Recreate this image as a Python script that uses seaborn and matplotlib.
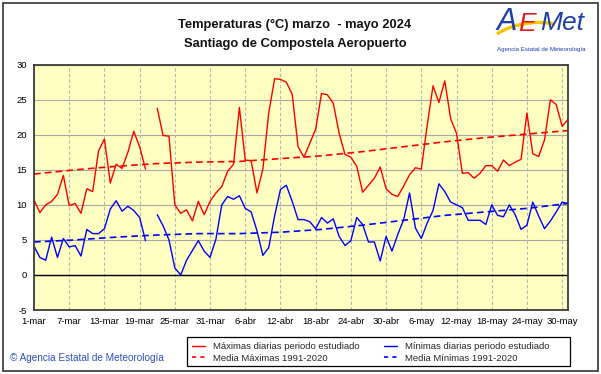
import numpy as np
import pandas as pd
import matplotlib
matplotlib.use("Agg")
import matplotlib.pyplot as plt
import seaborn as sns
from matplotlib.lines import Line2D
from matplotlib.patches import Rectangle, PathPatch
from matplotlib.path import Path

# ---------------- data ----------------
start_date = "2024-03-01"
end_date = "2024-05-31"

tmax = [10.7, 8.9, 10.0, 10.5, 11.5, 14.2, 9.9, 10.2, 8.8, 12.3,
        11.9, 17.7, 19.4, 13.1, 15.8, 15.2, 17.5, 20.5, 18.3, 15.1,
        np.nan, 23.8, 19.9, 19.8, 10.0, 8.8, 9.3, 7.7, 10.5, 8.6,
        10.5, 11.7, 12.6, 14.8, 15.8, 23.9, 16.4, 16.3, 11.7, 15.1,
        23.1, 28.0, 27.9, 27.5, 25.8, 18.3, 16.8, 18.8, 20.8, 25.9,
        25.7, 24.5, 20.2, 17.2, 16.8, 15.5, 11.8, 12.8, 13.8, 15.4,
        12.3, 11.5, 11.2, 12.7, 14.3, 15.3, 15.1, 21.3, 27.0, 24.6,
        27.7, 22.3, 20.2, 14.5, 14.6, 13.8, 14.5, 15.6, 15.6, 14.8,
        16.4, 15.6, 16.1, 16.5, 23.1, 17.3, 16.9, 19.3, 25.0, 24.3,
        21.2, 22.2]

tmin = [4.1, 2.5, 2.1, 5.4, 2.5, 5.2, 4.0, 4.2, 2.7, 6.5,
        5.9, 5.9, 6.6, 9.4, 10.6, 9.1, 9.8, 9.2, 8.2, 4.9,
        np.nan, 8.6, 7.0, 5.0, 1.0, 0.0, 2.1, 3.5, 4.9, 3.4,
        2.5, 5.1, 10.0, 11.2, 10.8, 11.3, 9.5, 9.0, 6.3, 2.8,
        3.9, 8.4, 12.2, 12.8, 10.5, 7.9, 7.9, 7.6, 6.6, 8.2,
        7.4, 8.0, 5.5, 4.2, 4.9, 8.2, 7.2, 4.7, 4.7, 2.0,
        5.5, 3.4, 5.8, 7.9, 11.7, 6.7, 5.2, 7.4, 9.2, 13.0,
        11.9, 10.4, 10.0, 9.6, 7.8, 7.8, 7.8, 7.2, 10.0, 8.5,
        8.3, 10.0, 8.6, 6.5, 7.1, 10.4, 8.4, 6.6, 7.7, 9.0,
        10.4, 10.2]

# climatological means (1991-2020), read every 7 days
mean_dates = ["2024-03-01", "2024-03-08", "2024-03-15", "2024-03-22",
              "2024-03-29", "2024-04-05", "2024-04-12", "2024-04-19",
              "2024-04-26", "2024-05-03", "2024-05-10", "2024-05-17",
              "2024-05-24", "2024-05-31"]
mean_max = [14.4, 15.0, 15.5, 15.9, 16.1, 16.2, 16.6, 17.0, 17.6, 18.3,
            19.0, 19.6, 20.1, 20.6]
mean_min = [4.7, 5.0, 5.4, 5.7, 5.9, 5.9, 6.1, 6.5, 7.1, 7.8, 8.5, 9.0,
            9.5, 10.2]

xtick_labels = ["1-mar", "7-mar", "13-mar", "19-mar", "25-mar", "31-mar",
                "6-abr", "12-abr", "18-abr", "24-abr", "30-abr", "6-may",
                "12-may", "18-may", "24-may", "30-may"]
yticks = [-5, 0, 5, 10, 15, 20, 25, 30]

title_lines = ["Temperaturas (°C) marzo  - mayo 2024",
               "Santiago de Compostela Aeropuerto"]
legend_labels = ["Máximas diarias periodo estudiado",
                 "Media Máximas 1991-2020",
                 "Mínimas diarias periodo estudiado",
                 "Media Mínimas 1991-2020"]
footer = "© Agencia Estatal de Meteorología"
logo_sub = "Agencia Estatal de Meteorología"

# ---------------- build frames ----------------
dates = pd.date_range(start_date, end_date, freq="D")
daily = pd.DataFrame({"date": dates, "tmax": tmax, "tmin": tmin})
daily["seg"] = daily["tmax"].isna().cumsum()  # break line at missing days
dmax = daily.dropna(subset=["tmax"])
dmin = daily.dropna(subset=["tmin"])
means = pd.DataFrame({"date": pd.to_datetime(mean_dates),
                      "mmax": mean_max, "mmin": mean_min})

# ---------------- figure ----------------
sns.set_theme(style="white")
plt.rcParams["font.family"] = ["Liberation Sans", "DejaVu Sans"]

W, H = 601, 374
fig = plt.figure(figsize=(W / 100, H / 100), dpi=100)
fig.patch.set_facecolor("white")

def fx(px):
    return px / W

def fy(py):
    return 1 - py / H

L, R, T, B = 34, 568, 64.7, 310
ax = fig.add_axes([fx(L), fy(B), (R - L) / W, (B - T) / H])
ax.set_facecolor("#FFFFC2")

red = "#FF0000"
blue = "#0000FF"
dash = (0, (4, 2.5))

sns.lineplot(data=means, x="date", y="mmax", ax=ax, color=red, lw=1.2,
             linestyle=dash, legend=False)
sns.lineplot(data=means, x="date", y="mmin", ax=ax, color=blue, lw=1.2,
             linestyle=dash, legend=False)
sns.lineplot(data=dmax, x="date", y="tmax", units="seg", estimator=None,
             ax=ax, color=red, lw=1.0, legend=False)
sns.lineplot(data=dmin, x="date", y="tmin", units="seg", estimator=None,
             ax=ax, color=blue, lw=1.0, legend=False)

ax.set_xlim(dates[0], dates[-1])
ax.set_ylim(-5, 30)
ax.set_yticks(yticks)
ax.set_yticklabels([str(v) for v in yticks])
xt = dates[::6][:len(xtick_labels)]
ax.set_xticks(xt)
ax.set_xticklabels(xtick_labels)
ax.set_xlabel("")
ax.set_ylabel("")
ax.tick_params(axis="both", length=0, labelsize=6.8, colors="black")
ax.tick_params(axis="y", pad=5)
ax.tick_params(axis="x", pad=5)

for y in yticks:
    ax.axhline(y, color="#A8A8A8", lw=0.8, zorder=0.5)
for x in xt:
    ax.axvline(x, color="#B8B8B8", lw=0.8, linestyle=(0, (3, 2)), zorder=0.5)
ax.axhline(0, color="black", lw=1.0, zorder=1)

for s in ax.spines.values():
    s.set_color("#3C3C3C")
    s.set_linewidth(1.3)

# titles
fig.text(fx(295), fy(25), title_lines[0], ha="center", va="center",
         fontsize=9.3, fontweight="bold", color="#111111")
fig.text(fx(295), fy(44), title_lines[1], ha="center", va="center",
         fontsize=9.3, fontweight="bold", color="#111111")

# logo (approximation of the AEMET mark)
swoosh = Path([(fx(497), fy(34)), (fx(512), fy(24)), (fx(535), fy(20)),
               (fx(555), fy(24))],
              [Path.MOVETO, Path.CURVE4, Path.CURVE4, Path.CURVE4])
fig.add_artist(PathPatch(swoosh, transform=fig.transFigure, fill=False,
                         edgecolor="#F5C400", lw=2.4))
fig.text(fx(507), fy(22), "A", ha="center", va="center", fontsize=22,
         color="#1F3FA8", style="italic")
fig.text(fx(527), fy(24), "E", ha="center", va="center", fontsize=19,
         color="#E02020", style="italic")
fig.text(fx(562), fy(23), "Met", ha="center", va="center", fontsize=19,
         color="#1F3FA8", style="italic")
fig.text(fx(541), fy(50), logo_sub, ha="center", va="center",
         fontsize=4.4, color="#1F3FA8")

# footer
fig.text(fx(10), fy(358), footer, ha="left", va="center",
         fontsize=7.2, color="#2F4FBF")

# legend (frame drawn separately)
handles = [Line2D([], [], color=red, lw=1.0),
           Line2D([], [], color=red, lw=1.2, linestyle=(0, (2.5, 2.5))),
           Line2D([], [], color=blue, lw=1.0),
           Line2D([], [], color=blue, lw=1.2, linestyle=(0, (2.5, 2.5)))]
leg = fig.legend(handles, legend_labels, ncol=2, loc="center left",
                 bbox_to_anchor=(fx(192), fy(352.5)),
                 fontsize=6.8, frameon=False,
                 handlelength=1.35, handletextpad=0.85, columnspacing=2.6,
                 borderaxespad=0, borderpad=0, labelspacing=0.22)
fig.add_artist(Rectangle((fx(187), fy(366)), (570 - 187) / W, 29 / H,
                         transform=fig.transFigure, fill=False,
                         edgecolor="black", lw=0.9))

# outer border
fig.add_artist(Rectangle((fx(3), fy(371)), (W - 6) / W, (H - 6) / H,
                         transform=fig.transFigure, fill=False,
                         edgecolor="#333333", lw=1.2))

fig.savefig("out.png", dpi=100)
